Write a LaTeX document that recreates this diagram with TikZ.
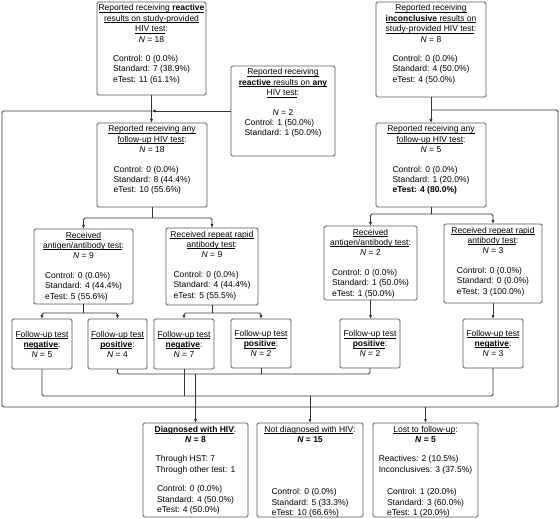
\documentclass[tikz,border=0pt]{standalone}
\usepackage{fontspec}
\setmainfont{Liberation Sans}
\usetikzlibrary{arrows.meta,calc}
\newsavebox\uxbox
\newcommand\ux[1]{\sbox\uxbox{#1}\leavevmode\rlap{\rule[-1.5bp]{\wd\uxbox}{0.55bp}}\usebox\uxbox}
\newcommand\NN[1]{\textit{N} = #1}
\newcommand\NB[1]{\textbf{\textit{N} = #1}}
\newcommand\blk[1]{\begin{tabular}[t]{@{}l@{}}#1\end{tabular}}
\newcommand\boxfont{\fontsize{8.5bp}{10.4bp}\selectfont\lineskip=0pt\lineskiplimit=0pt}
\newcommand\mkbox[6]{\node[bx] (#1) at ({(#2+#4)/2},{(#3+#5)/2}) {\parbox[c][\dimexpr#5bp-#3bp\relax][t]{\dimexpr#4bp-#2bp\relax}{\boxfont\centering\rule{0pt}{9bp}#6}};}
\newcommand\mksm[6]{\node[bx] (#1) at ({(#2+#4)/2},{(#3+#5)/2}) {\parbox[c][\dimexpr#5bp-#3bp\relax][c]{\dimexpr#4bp-#2bp\relax}{\boxfont\baselineskip=10bp\centering #6}};}
\begin{document}
\begin{tikzpicture}[x=1bp,y=-1bp,
  bx/.style={draw=black!65,line width=0.75bp,rounded corners=1.5bp,inner sep=0pt,outer sep=0pt,text=black},
  ln/.style={draw=black!80,line width=0.8bp,rounded corners=1.5bp},
  arr/.style={ln,-{Latex[length=4bp,width=3.2bp]}}]
\fill[white] (0,0) rectangle (560,519);
\useasboundingbox (0,0) rectangle (560,519);

% row 1
\mkbox{A}{97}{2}{206}{95}{\ux{Reported receiving \textbf{reactive}}\\\ux{results on study-provided}\\\ux{HIV test}:\\\NN{18}\\[9bp]\blk{Control: 0 (0.0\%)\\Standard: 7 (38.9\%)\\eTest: 11 (61.1\%)}}
\mkbox{B}{231}{66}{335}{156}{\ux{Reported receiving}\\\ux{\textbf{reactive} results on \textbf{any}}\\\ux{HIV test}:\\[9bp]\NN{2}\\\blk{Control: 1 (50.0\%)\\Standard: 1 (50.0\%)}}
\mkbox{C}{376}{2}{486}{97}{\ux{Reported receiving}\\\ux{\textbf{inconclusive} results on}\\\ux{study-provided HIV test}:\\\NN{8}\\[9bp]\blk{Control: 0 (0.0\%)\\Standard: 4 (50.0\%)\\eTest: 4 (50.0\%)}}

% row 2
\mkbox{D}{97}{123}{207}{207}{\ux{Reported receiving any}\\\ux{follow-up HIV test}:\\\NN{18}\\[9bp]\blk{Control: 0 (0.0\%)\\Standard: 8 (44.4\%)\\eTest: 10 (55.6\%)}}
\mkbox{E}{376}{123}{486}{207}{\ux{Reported receiving any}\\\ux{follow-up HIV test}:\\\NN{5}\\[9bp]\blk{Control: 0 (0.0\%)\\Standard: 1 (20.0\%)\\\textbf{eTest: 4 (80.0\%)}}}

% row 3
\mkbox{F}{34}{229}{133}{304}{\ux{Received}\\\ux{antigen/antibody test}:\\\NN{9}\\[9bp]\blk{Control: 0 (0.0\%)\\Standard: 4 (44.4\%)\\eTest: 5 (55.6\%)}}
\mkbox{G}{166}{228}{258}{305}{\ux{Received repeat rapid}\\\ux{antibody test}:\\\NN{9}\\[9bp]\blk{Control: 0 (0.0\%)\\Standard: 4 (44.4\%)\\eTest: 5 (55.5\%)}}
\mkbox{H}{324}{226}{417}{300}{\ux{Received}\\\ux{antigen/antibody test}:\\\NN{2}\\[9bp]\blk{Control: 0 (0.0\%)\\Standard: 1 (50.0\%)\\eTest: 1 (50.0\%)}}
\mkbox{I}{444}{224}{542}{303}{\ux{Received repeat rapid}\\\ux{antibody test}:\\\NN{3}\\[9bp]\blk{Control: 0 (0.0\%)\\Standard: 0 (0.0\%)\\eTest: 3 (100.0\%)}}

% row 4
\mksm{J}{12}{319}{72}{369}{\ux{Follow-up test}\\\ux{\textbf{negative}}:\\\NN{5}}
\mksm{K}{88}{319}{147}{369}{\ux{Follow-up test}\\\ux{\textbf{positive}}:\\\NN{4}}
\mksm{L}{154}{319}{214}{369}{\ux{Follow-up test}\\\ux{\textbf{negative}}:\\\NN{7}}
\mksm{M}{231}{319}{291}{368}{\ux{Follow-up test}\\\ux{\textbf{positive}}:\\\NN{2}}
\mksm{N}{340}{319}{400}{368}{\ux{Follow-up test}\\\ux{\textbf{positive}}:\\\NN{2}}
\mksm{O}{463}{319}{523}{368}{\ux{Follow-up test}\\\ux{\textbf{negative}}:\\\NN{3}}

% row 5
\mkbox{P}{143}{423}{248}{517}{\ux{\textbf{Diagnosed with HIV}}:\\\NB{8}\\[9bp]\blk{Through HST: 7\\Through other test: 1}\\[9bp]\blk{Control: 0 (0.0\%)\\Standard: 4 (50.0\%)\\eTest: 4 (50.0\%)}}
\mkbox{Q}{257}{423}{363}{517}{\ux{Not diagnosed with HIV}:\\\NB{15}\\[42bp]\blk{Control: 0 (0.0\%)\\Standard: 5 (33.3\%)\\eTest: 10 (66.6\%)}}
\mkbox{R}{373}{423}{478}{517}{\ux{Lost to follow-up}:\\\NB{5}\\[9bp]\blk{Reactives: 2 (10.5\%)\\Inconclusives: 3 (37.5\%)}\\[12bp]\blk{Control: 1 (20.0\%)\\Standard: 3 (60.0\%)\\eTest: 1 (20.0\%)}}

% connectors: top
\coordinate (jA) at (A.south |- B.west);
\coordinate (jC) at ($(C.south)+(0,13)$);
\coordinate (loopL) at (2,407);
\coordinate (loopR) at (558,407);
\draw[arr] (A.south) -- (A.south |- D.north);
\draw[arr] (C.south) -- (C.south |- E.north);
\draw[arr] (B.west) -- (jA);
\draw[ln] (jA) -| (loopL) -- (loopR) |- (jC);
\draw[arr] (R.north |- loopR) -- (R.north);

% row 2 -> row 3
\draw[ln] (D.south) -- ++(0,11) coordinate (jD);
\draw[arr] (jD) -| (F.north);
\draw[arr] (jD) -| (G.north);
\draw[ln] (E.south) -- ++(0,7) coordinate (jE);
\draw[arr] (jE) -| (H.north);
\draw[arr] (jE) -| (I.north);

% row 3 -> row 4
\draw[ln] (F.south) -- ++(0,9) coordinate (jF);
\draw[arr] (jF) -| (J.north);
\draw[arr] (jF) -| (K.north);
\draw[ln] (G.south) -- ++(0,8) coordinate (jG);
\draw[arr] (jG) -| (L.north);
\draw[arr] (jG) -| (M.north);
\draw[arr] (H.south) -- (H.south |- N.north);
\draw[arr] (I.south) -- (I.south |- O.north);

% positives -> diagnosed
\draw[ln] (K.south) -- ++(0,5) coordinate (jK) -| (N.south);
\draw[ln] (M.south) -- (M.south |- jK);
\draw[arr] (P.north |- jK) -- (P.north);

% negatives -> not diagnosed
\draw[ln] (J.south) -- ++(0,27) coordinate (jJ) -| (O.south);
\draw[ln] (L.south) -- (L.south |- jJ);
\draw[arr] (Q.north |- jJ) -- (Q.north);
\end{tikzpicture}
\end{document}
